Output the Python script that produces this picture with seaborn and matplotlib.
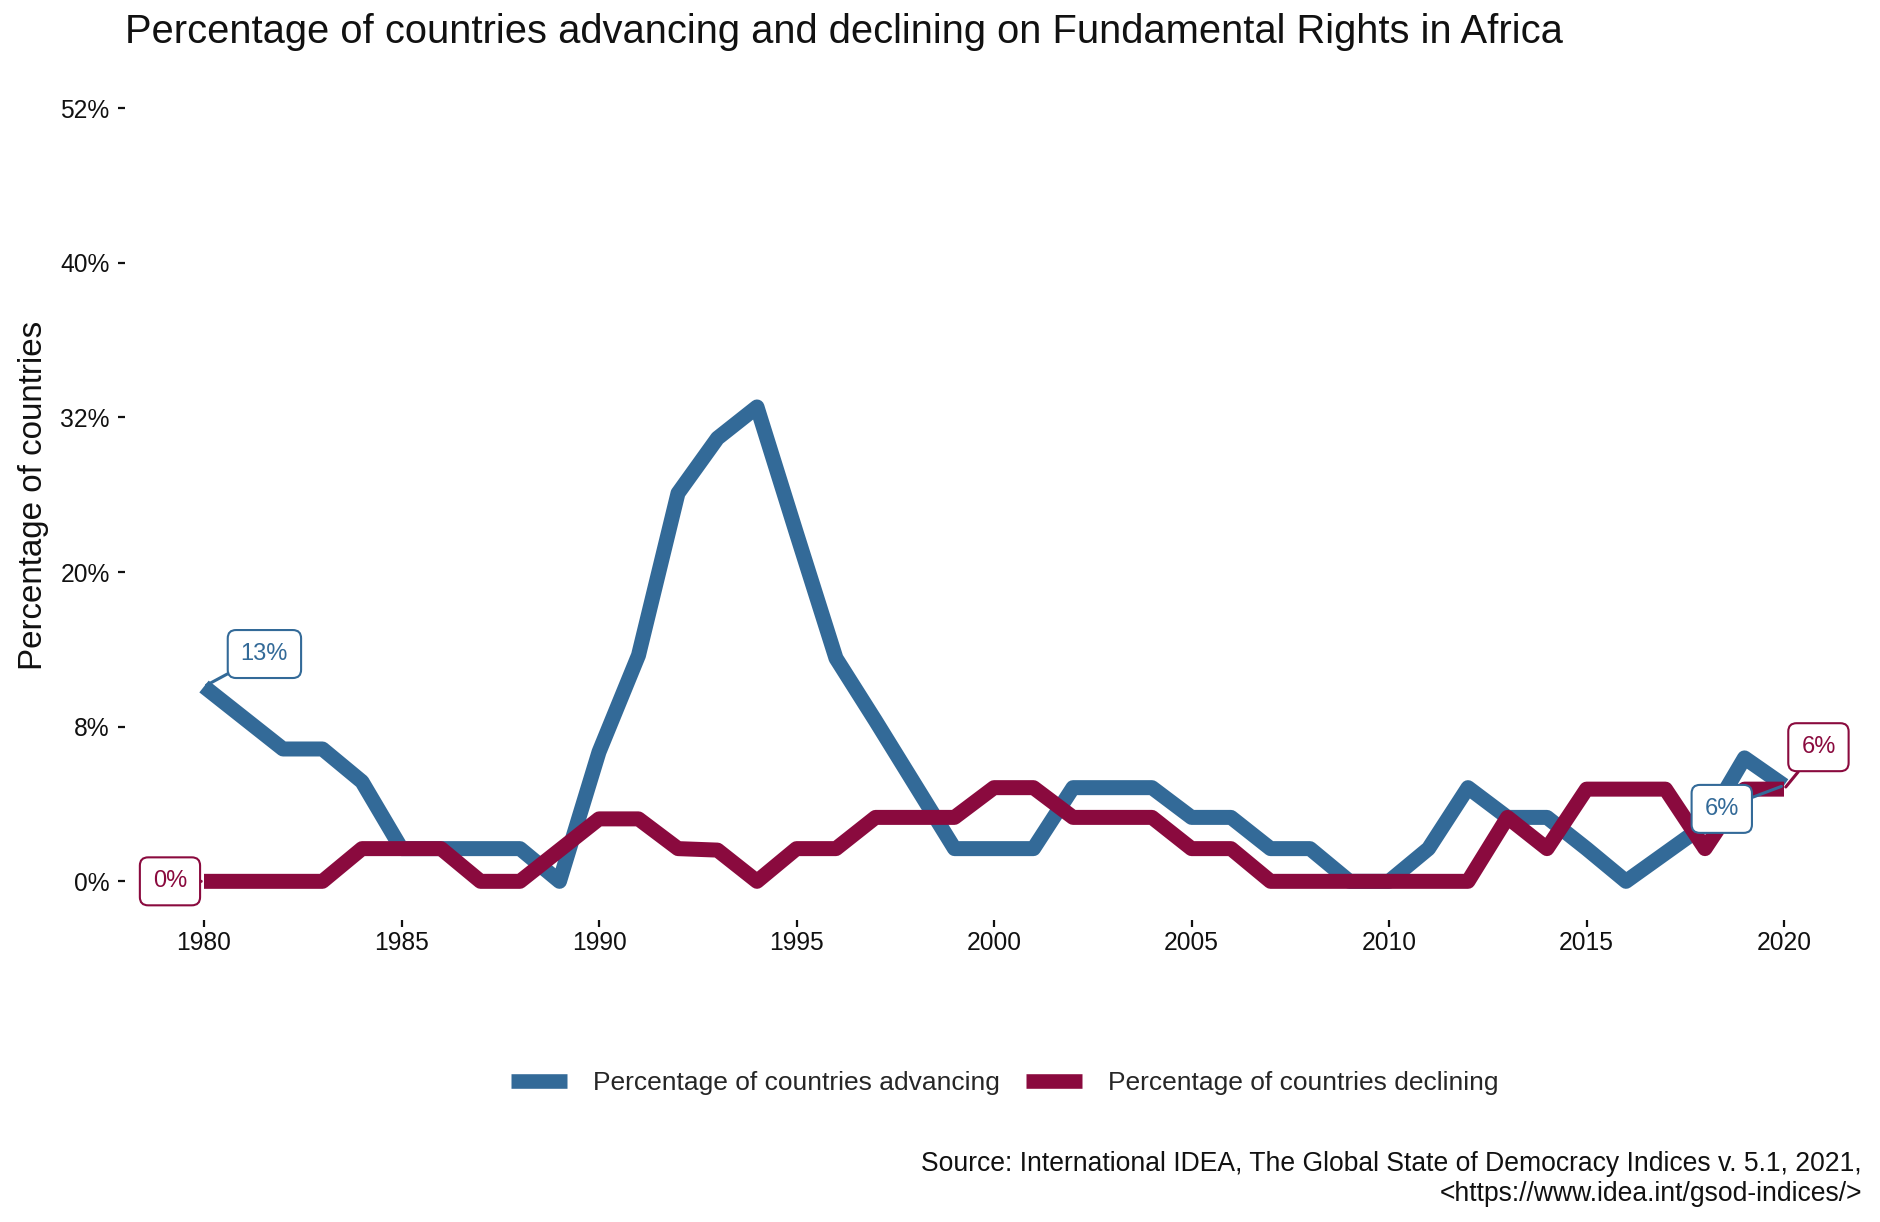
import matplotlib
matplotlib.use("Agg")
import matplotlib.pyplot as plt
from matplotlib.lines import Line2D
import seaborn as sns
import pandas as pd

# ---------------- data ----------------
years = list(range(1980, 2021))
advancing = [13.1, 11.0, 8.9, 8.9, 6.7, 2.2, 2.2, 2.2, 2.2, 0.0,
             8.7, 15.2, 26.1, 29.8, 31.9, 23.4, 15.0, 10.8, 6.5, 2.2,
             2.2, 2.2, 6.3, 6.3, 6.3, 4.3, 4.3, 2.2, 2.2, 0.0,
             0.0, 2.2, 6.3, 4.3, 4.3, 2.2, 0.0, 1.9, 3.8, 8.3,
             6.45]
declining = [0.0, 0.0, 0.0, 0.0, 2.2, 2.2, 2.2, 0.0, 0.0, 2.1,
             4.2, 4.2, 2.2, 2.1, 0.0, 2.2, 2.2, 4.3, 4.3, 4.3,
             6.3, 6.3, 4.3, 4.3, 4.3, 2.2, 2.2, 0.0, 0.0, 0.0,
             0.0, 0.0, 0.0, 4.3, 2.2, 6.2, 6.2, 6.2, 2.2, 6.2,
             6.2]
series_names = ["Percentage of countries advancing", "Percentage of countries declining"]
colors = ["#336A98", "#8A0A3E"]
ytick_values = [0, 10.4, 20.8, 31.2, 41.6, 52]
ytick_labels = ["0%", "8%", "20%", "32%", "40%", "52%"]
xtick_values = [1980, 1985, 1990, 1995, 2000, 2005, 2010, 2015, 2020]
title = "Percentage of countries advancing and declining on Fundamental Rights in Africa"
ylabel = "Percentage of countries"
caption1 = "Source: International IDEA, The Global State of Democracy Indices v. 5.1, 2021,"
caption2 = "<https://www.idea.int/gsod-indices/>"
# labels: (series index, year index, text, offset in points)
point_labels = [
    (0, 0, "13%", (43.5, 23.4)),
    (1, 0, "0%", (-24.5, 0.0)),
    (0, -1, "6%", (-44.8, -16.9)),
    (1, -1, "6%", (24.8, 30.2)),
]

df = pd.DataFrame({
    "year": years * 2,
    "value": advancing + declining,
    "series": [series_names[0]] * len(years) + [series_names[1]] * len(years),
})

# ---------------- style ----------------
sns.set_theme(style="white")
plt.rcParams["font.family"] = ["Liberation Sans", "DejaVu Sans"]

W, H = 1881, 1222
fig = plt.figure(figsize=(W / 100, H / 100), dpi=100)
ax = fig.add_axes([125 / W, 1 - 920 / H, 1738 / W, (920 - 69.4) / H])

sns.lineplot(data=df, x="year", y="value", hue="series", palette=colors,
             linewidth=10.8, estimator=None, sort=False, legend=False, ax=ax)
for ln in ax.lines:
    ln.set_solid_capstyle("butt")
    ln.set_solid_joinstyle("round")

ax.set_xlim(1978, 2022)
ax.set_ylim(-2.6, 54.6)
ax.set_xticks(xtick_values)
ax.set_xticklabels([str(v) for v in xtick_values])
ax.set_yticks(ytick_values)
ax.set_yticklabels(ytick_labels)
ax.set_xlabel("")
ax.set_ylabel("")
for s in ax.spines.values():
    s.set_visible(False)
ax.grid(False)
ax.tick_params(axis="both", which="major", labelsize=17.7, length=5, width=1.6,
               color="#111111", labelcolor="#111111", bottom=True, left=True)
ax.tick_params(axis="x", pad=3)
ax.tick_params(axis="y", pad=6)

series_vals = [advancing, declining]
for si, yi, txt, off in point_labels:
    xv = years[yi]
    yv = series_vals[si][yi]
    ax.annotate(txt, xy=(xv, yv), xytext=off, textcoords="offset points",
                ha="center", va="center", fontsize=17, color=colors[si],
                bbox=dict(boxstyle="round,pad=0.55,rounding_size=0.35",
                          fc="white", ec=colors[si], lw=1.5),
                arrowprops=dict(arrowstyle="-", color=colors[si], lw=2.2,
                                shrinkA=0, shrinkB=2),
                zorder=5)

# legend
handles = [Line2D([0], [0], color=c, lw=10.5, solid_capstyle="butt") for c in colors]
fig.legend(handles, series_names, loc="center", bbox_to_anchor=(1005 / W, 1 - 1083 / H),
           ncol=2, frameon=False, fontsize=19, handlelength=2.1,
           handletextpad=1.0, columnspacing=1.0)

fig.text(125 / W, 1 - 32 / H, title, ha="left", va="center", fontsize=28.7, color="#111111")
fig.text(34 / W, 1 - 495 / H, ylabel, rotation=90, ha="center", va="center",
         fontsize=23.9, color="#111111")
fig.text(1862 / W, 1 - 1164 / H, caption1, ha="right", va="center", fontsize=19.1, color="#111111")
fig.text(1862 / W, 1 - 1194 / H, caption2, ha="right", va="center", fontsize=19.1, color="#111111")

fig.savefig("out.png", dpi=100, facecolor="white")
